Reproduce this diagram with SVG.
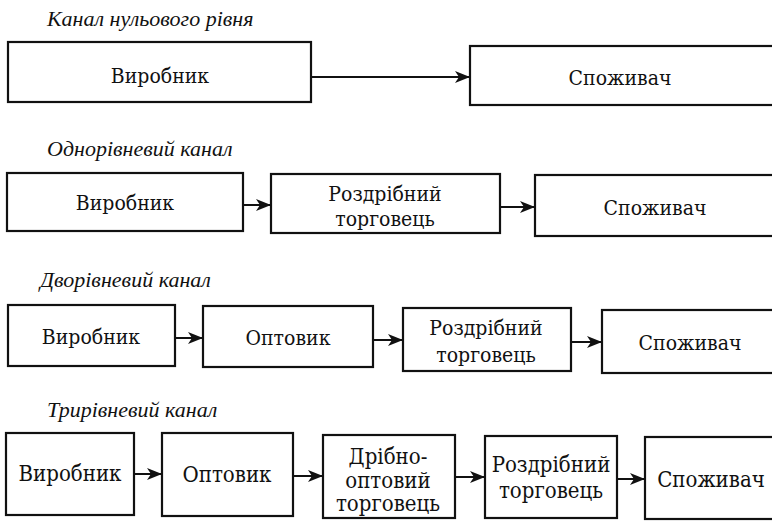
<svg xmlns="http://www.w3.org/2000/svg" width="772" height="523" viewBox="0 0 772 523">
<style>
.box{fill:#fff;stroke:#111;stroke-width:2.2}
.lbl{font-family:'DejaVu Serif Condensed','Liberation Serif',serif;font-size:21px;fill:#111;text-anchor:middle}
.big{font-size:22px}
.ttl{font-family:'Liberation Serif','Times New Roman',serif;font-style:italic;font-size:22px;fill:#111}
.con{stroke:#111;stroke-width:2;fill:none;marker-end:url(#ah)}
</style>
<defs>
<marker id="ah" markerWidth="16" markerHeight="12" refX="15" refY="6" orient="auto" markerUnits="userSpaceOnUse">
<path d="M0,0 L15,6 L0,12 L4,6 Z" fill="#111"/>
</marker>
</defs>
<rect width="772" height="523" fill="#fff"/>

<g id="titles">
<text class="ttl" x="47" y="26">Канал нульового рівня</text>
<text class="ttl" x="47" y="156">Однорівневий канал</text>
<text class="ttl" x="40" y="287">Дворівневий канал</text>
<text class="ttl" x="47" y="417">Трирівневий канал</text>
</g>

<g id="r1-producer"><rect class="box" x="8" y="42" width="303" height="60"/><text class="lbl" x="160" y="83">Виробник</text></g>
<g id="r1-consumer"><rect class="box" x="470" y="46" width="312" height="59"/><text class="lbl" x="620" y="85">Споживач</text></g>

<g id="r2-producer"><rect class="box" x="7" y="173" width="236" height="58"/><text class="lbl" x="125" y="210">Виробник</text></g>
<g id="r2-retailer"><rect class="box" x="271" y="174" width="229" height="59"/><text class="lbl" x="385" y="201">Роздрібний</text><text class="lbl" x="385" y="226">торговець</text></g>
<g id="r2-consumer"><rect class="box" x="535" y="175" width="247" height="61"/><text class="lbl" x="655" y="215">Споживач</text></g>

<g id="r3-producer"><rect class="box" x="8" y="305" width="167" height="61"/><text class="lbl" x="91" y="344">Виробник</text></g>
<g id="r3-wholesaler"><rect class="box" x="203" y="306" width="170" height="61"/><text class="lbl" x="288" y="345">Оптовик</text></g>
<g id="r3-retailer"><rect class="box" x="403" y="308" width="168" height="63"/><text class="lbl" x="486" y="335">Роздрібний</text><text class="lbl" x="486" y="362">торговець</text></g>
<g id="r3-consumer"><rect class="box" x="602" y="310" width="180" height="63"/><text class="lbl" x="690" y="350">Споживач</text></g>

<g id="r4-producer"><rect class="box" x="6" y="433" width="128" height="82"/><text class="lbl big" x="70" y="481">Виробник</text></g>
<g id="r4-wholesaler"><rect class="box" x="162" y="433" width="131" height="83"/><text class="lbl big" x="227" y="482">Оптовик</text></g>
<g id="r4-small-wholesaler"><rect class="box" x="323" y="435" width="132" height="83"/><text class="lbl big" x="388" y="464">Дрібно-</text><text class="lbl big" x="388" y="488">оптовий</text><text class="lbl big" x="388" y="511">торговець</text></g>
<g id="r4-retailer"><rect class="box" x="485" y="436" width="132" height="82"/><text class="lbl big" x="551" y="472">Роздрібний</text><text class="lbl big" x="551" y="498">торговець</text></g>
<g id="r4-consumer"><rect class="box" x="645" y="437" width="137" height="82"/><text class="lbl big" x="711" y="487">Споживач</text></g>

<g id="connectors">
<line class="con" x1="311" y1="77" x2="470" y2="77"/>
<line class="con" x1="243" y1="205" x2="271" y2="205"/>
<line class="con" x1="500" y1="207" x2="535" y2="207"/>
<line class="con" x1="175" y1="338" x2="203" y2="338"/>
<line class="con" x1="373" y1="340" x2="403" y2="340"/>
<line class="con" x1="571" y1="342" x2="602" y2="342"/>
<line class="con" x1="134" y1="474" x2="162" y2="474"/>
<line class="con" x1="293" y1="476" x2="323" y2="476"/>
<line class="con" x1="455" y1="477" x2="485" y2="477"/>
<line class="con" x1="617" y1="479" x2="645" y2="479"/>
</g>
</svg>
